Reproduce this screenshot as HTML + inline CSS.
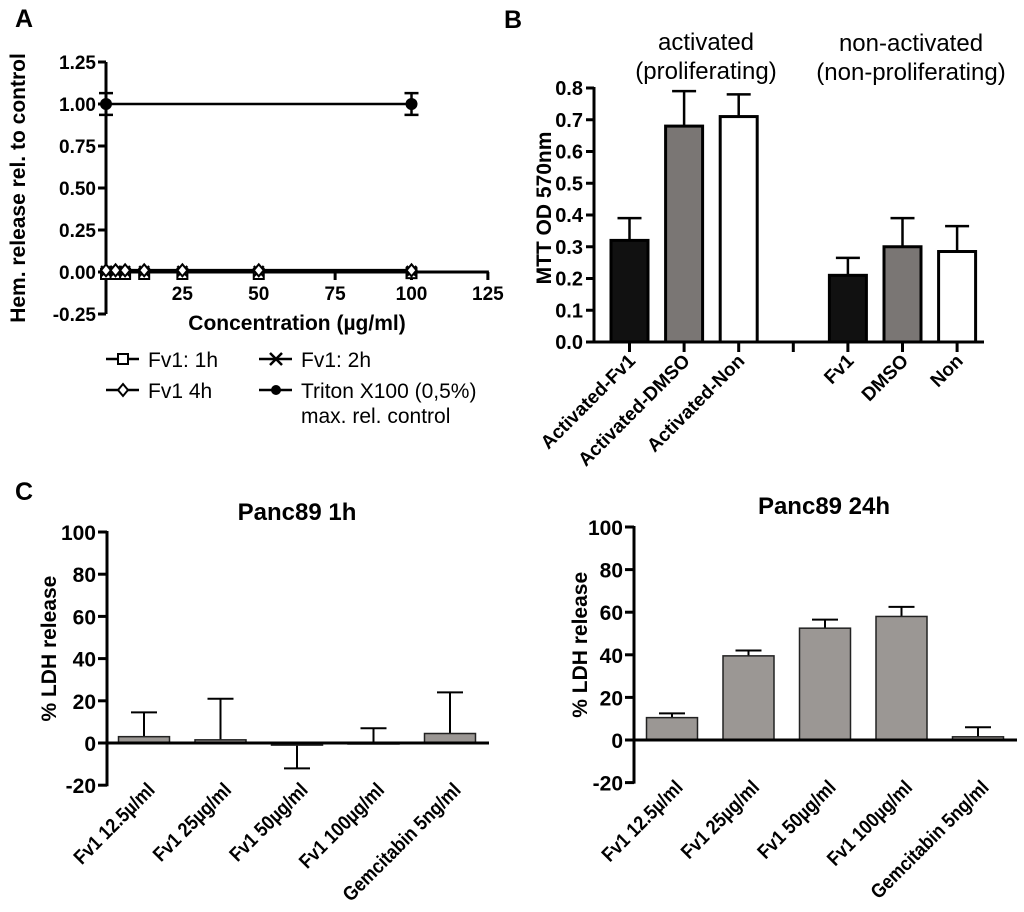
<!DOCTYPE html>
<html><head><meta charset="utf-8">
<style>
html,body{margin:0;padding:0;background:#fff;}
svg{display:block;font-family:"Liberation Sans",Arial,sans-serif;}
</style></head>
<body>
<svg id="fig" width="1024" height="912" viewBox="0 0 1024 912" xmlns="http://www.w3.org/2000/svg">
<text x="15" y="27" font-size="25" font-weight="bold">A</text>
<text x="504" y="28" font-size="25" font-weight="bold">B</text>
<text x="15" y="500" font-size="25" font-weight="bold">C</text>
<g id="pa"></g>
<g id="pb"></g>
<g id="pc1"></g>
<g id="pc2"></g>
</svg>
<script>
// Panel A data
const aXTicks = [25, 50, 75, 100, 125];
const aYTicks = [-0.25, 0, 0.25, 0.5, 0.75, 1.0, 1.25];
const aYTickLabels = ["-0.25","0.00","0.25","0.50","0.75","1.00","1.25"];
const aFvX = [0, 3.125, 6.25, 12.5, 25, 50, 100];
const aFv1h = [0, 0, 0, 0, 0, 0, 0.005];
const aFv2h = [0.005, 0.005, 0.005, 0.005, 0.005, 0.005, 0.005];
const aFv4h = [0.01, 0.01, 0.01, 0.01, 0.01, 0.01, 0.01];
const aTritonX = [0, 100];
const aTritonY = [1.0, 1.0];
const aTritonErr = [0.065, 0.065];
// Panel B data
const bCats = ["Activated-Fv1","Activated-DMSO","Activated-Non","","Fv1","DMSO","Non"];
const bVals = [0.32, 0.68, 0.71, null, 0.21, 0.30, 0.285];
const bErr = [0.07, 0.11, 0.07, null, 0.055, 0.09, 0.08];
const bFills = ["#111","#7a7674","#fff",null,"#111","#7a7674","#fff"];
const bYTicks = [0,0.1,0.2,0.3,0.4,0.5,0.6,0.7,0.8];
const bYTickLabels = ["0.0","0.1","0.2","0.3","0.4","0.5","0.6","0.7","0.8"];
// Panel C data
const cCats = ["Fv1 12.5µ/ml","Fv1 25µg/ml","Fv1 50µg/ml","Fv1 100µg/ml","Gemcitabin 5ng/ml"];
const c1Vals = [3, 1.5, -1, 0, 4.5];
const c1Err = [11.5, 19.5, -11, 7, 19.5];
const c2Vals = [10.5, 39.5, 52.5, 58, 1.5];
const c2Err = [2, 2.5, 4, 4.5, 4.5];
const cYTicks = [-20, 0, 20, 40, 60, 80, 100];

const NS = "http://www.w3.org/2000/svg";
function mk(parent, tag, attrs, txt){
  const e = document.createElementNS(NS, tag);
  for (const k in attrs) e.setAttribute(k, attrs[k]);
  if (txt !== undefined) e.textContent = txt;
  parent.appendChild(e);
  return e;
}

// ---------- Panel A ----------
(function(){
  const g = document.getElementById('pa');
  const x = v => 106 + v * 3.055;
  const y = v => 272 - v * 168;
  let e;
  e = mk(g,'line',{x1:106,y1:y(1.25),x2:106,y2:y(-0.25),stroke:'#000','stroke-width':3});
   
  e = mk(g,'line',{x1:106,y1:272,x2:x(125)+1,y2:272,stroke:'#000','stroke-width':3});
   
  aYTicks.forEach((t,i)=>{
    mk(g,'line',{x1:98,y1:y(t),x2:106,y2:y(t),stroke:'#000','stroke-width':3});
    e = mk(g,'text',{x:96,y:y(t)+7,'text-anchor':'end','font-size':19,'font-weight':'bold'},aYTickLabels[i]);
     
  });
  aXTicks.forEach(t=>{
    mk(g,'line',{x1:x(t),y1:272,x2:x(t),y2:280,stroke:'#000','stroke-width':3});
    e = mk(g,'text',{x:x(t),y:300,'text-anchor':'middle','font-size':19,'font-weight':'bold'},String(t));
     
  });
  e = mk(g,'text',{x:297,y:330,'text-anchor':'middle','font-size':21,'font-weight':'bold'},'Concentration (µg/ml)');
   
  e = mk(g,'text',{x:0,y:0,'text-anchor':'middle','font-size':21,'font-weight':'bold',transform:'translate(25,188) rotate(-90)'},'Hem. release rel. to control');
   
  [aFv1h,aFv2h,aFv4h].forEach((s,si)=>{
    let d = s.map((v,i)=>(i?'L':'M')+x(aFvX[i])+' '+y(v)).join(' ');
    e = mk(g,'path',{d:d,fill:'none',stroke:'#000','stroke-width':3});
     
    s.forEach((v,i)=>{
      const cx=x(aFvX[i]), cy=y(v);
      if(si===0) mk(g,'rect',{x:cx-5,y:cy-3,width:10,height:10,fill:'#fff',stroke:'#000','stroke-width':2});
      else if(si===1){ mk(g,'path',{d:`M${cx-5} ${cy-5}L${cx+5} ${cy+5}M${cx-5} ${cy+5}L${cx+5} ${cy-5}`,stroke:'#000','stroke-width':2.5}); }
      else mk(g,'path',{d:`M${cx} ${cy-6}L${cx+5} ${cy}L${cx} ${cy+6}L${cx-5} ${cy}Z`,fill:'#fff',stroke:'#000','stroke-width':2});
    });
  });
  e = mk(g,'line',{x1:x(aTritonX[0]),y1:y(aTritonY[0]),x2:x(aTritonX[1]),y2:y(aTritonY[1]),stroke:'#000','stroke-width':2.5});
   
  aTritonX.forEach((xv,i)=>{
    const cx=x(xv), cy=y(aTritonY[i]), t=y(aTritonY[i]+aTritonErr[i]), b=y(aTritonY[i]-aTritonErr[i]);
    mk(g,'path',{d:`M${cx} ${t}L${cx} ${b}M${cx-7} ${t}L${cx+7} ${t}M${cx-7} ${b}L${cx+7} ${b}`,stroke:'#000','stroke-width':2.5,fill:'none'});
    e = mk(g,'circle',{cx:cx,cy:cy,r:6,fill:'#000'});
     
  });
  const leg = [
    {x:106,y:359,t:'Fv1: 1h',m:0},{x:259,y:359,t:'Fv1: 2h',m:1},
    {x:106,y:390,t:'Fv1 4h',m:2},{x:259,y:390,t:'Triton X100 (0,5%)',m:3}];
  leg.forEach(l=>{
    const lg = mk(g,'g',{});
     
    mk(lg,'line',{x1:l.x,y1:l.y,x2:l.x+33,y2:l.y,stroke:'#000','stroke-width':2.5});
    const cx=l.x+17, cy=l.y;
    if(l.m===0) mk(lg,'rect',{x:cx-5,y:cy-5,width:10,height:10,fill:'#fff',stroke:'#000','stroke-width':2});
    else if(l.m===1) mk(lg,'path',{d:`M${cx-6} ${cy-6}L${cx+6} ${cy+6}M${cx-6} ${cy+6}L${cx+6} ${cy-6}`,stroke:'#000','stroke-width':2.5});
    else if(l.m===2) mk(lg,'path',{d:`M${cx} ${cy-6}L${cx+5} ${cy}L${cx} ${cy+6}L${cx-5} ${cy}Z`,fill:'#fff',stroke:'#000','stroke-width':2});
    else mk(lg,'circle',{cx:cx,cy:cy,r:5,fill:'#000'});
    mk(lg,'text',{x:l.x+42,y:l.y+8,'font-size':21},l.t);
  });
  e = mk(g,'text',{x:301,y:423,'font-size':21},'max. rel. control');
   
})();

// ---------- Panel B ----------
(function(){
  const g = document.getElementById('pb');
  const y = v => 342 - v * 317.5;
  const x = i => 629.5 + i * 54.6;
  let e;
  e = mk(g,'line',{x1:594,y1:y(0.8)-1,x2:594,y2:343,stroke:'#000','stroke-width':3});
   
  e = mk(g,'line',{x1:593,y1:342,x2:984,y2:342,stroke:'#000','stroke-width':3});
   
  bYTicks.forEach((t,i)=>{
    mk(g,'line',{x1:586,y1:y(t),x2:594,y2:y(t),stroke:'#000','stroke-width':3});
    e = mk(g,'text',{x:583,y:y(t)+7,'text-anchor':'end','font-size':20,'font-weight':'bold'},bYTickLabels[i]);
     
  });
  e = mk(g,'text',{x:0,y:0,'text-anchor':'middle','font-size':21,'font-weight':'bold',transform:'translate(551,208) rotate(-90)'},'MTT OD 570nm');
   
  bCats.forEach((c,i)=>{
    const cx = x(i);
    mk(g,'line',{x1:cx,y1:342,x2:cx,y2:352,stroke:'#000','stroke-width':3});
    if(bVals[i]===null) return;
    const top = y(bVals[i]), et = y(bVals[i]+bErr[i]);
    mk(g,'path',{d:`M${cx} ${top}L${cx} ${et}M${cx-12} ${et}L${cx+12} ${et}`,stroke:'#000','stroke-width':2.5,fill:'none'});
    e = mk(g,'rect',{x:cx-18.5,y:top,width:37,height:342-top,fill:bFills[i],stroke:'#000','stroke-width':3});
     
    e = mk(g,'text',{x:0,y:0,'text-anchor':'end','font-size':19,'font-weight':'bold',transform:`translate(${cx+7},${362}) rotate(-45)`},c);
     
  });
  [['activated',706,50],['(proliferating)',706,79],['non-activated',911,51],['(non-proliferating)',911,80]].forEach(h=>{
    e = mk(g,'text',{x:h[1],y:h[2],'text-anchor':'middle','font-size':24},h[0]);
     
  });
})();

// ---------- Panel C ----------
function drawC(id, ox, y0, y100, xEnd, centers0, step, vals, errs, title, tx, ty, ytx){
  const g = document.getElementById(id);
  const k = (y0 - y100) / 100;
  const y = v => y0 - v * k;
  const x = i => centers0 + i * step;
  let e;
  e = mk(g,'line',{x1:ox,y1:y(100)-1,x2:ox,y2:y(-20)+1,stroke:'#000','stroke-width':3});
   
  cYTicks.forEach(t=>{
    mk(g,'line',{x1:ox-9,y1:y(t),x2:ox,y2:y(t),stroke:'#000','stroke-width':3});
    e = mk(g,'text',{x:ox-11,y:y(t)+8,'text-anchor':'end','font-size':21,'font-weight':'bold'},String(t));
     
  });
  cCats.forEach((c,i)=>{
    const cx = x(i), v = vals[i], top = y(v), et = y(v + errs[i]);
    mk(g,'path',{d:`M${cx} ${top}L${cx} ${et}M${cx-13} ${et}L${cx+13} ${et}`,stroke:'#000','stroke-width':2,fill:'none'});
    e = mk(g,'rect',{x:cx-25.5,y:Math.min(top,y0),width:51,height:Math.max(Math.abs(y0-top),1),fill:'#9b9794',stroke:'#222','stroke-width':1.5});
     
    e = mk(g,'text',{x:0,y:0,'text-anchor':'end','font-size':20,'font-weight':'bold',transform:`translate(${cx+12},${y(-20)+6}) rotate(-45) scale(0.88,1)`},c);
     
  });
  e = mk(g,'line',{x1:ox,y1:y0,x2:xEnd,y2:y0,stroke:'#000','stroke-width':3});
   
  e = mk(g,'text',{x:tx,y:ty,'text-anchor':'middle','font-size':24,'font-weight':'bold'},title);
   
  e = mk(g,'text',{x:0,y:0,'text-anchor':'middle','font-size':21,'font-weight':'bold',transform:`translate(${ytx},${(y(100)+y(-20))/2 - 10}) rotate(-90)`},'% LDH release');
   
}
drawC('pc1',107,743,532,489,144,76.5,c1Vals,c1Err,'Panc89 1h',297,520,56);
drawC('pc2',634,740,527,1017,672,76.5,c2Vals,c2Err,'Panc89 24h',824,514,587);
</script>
</body></html>
